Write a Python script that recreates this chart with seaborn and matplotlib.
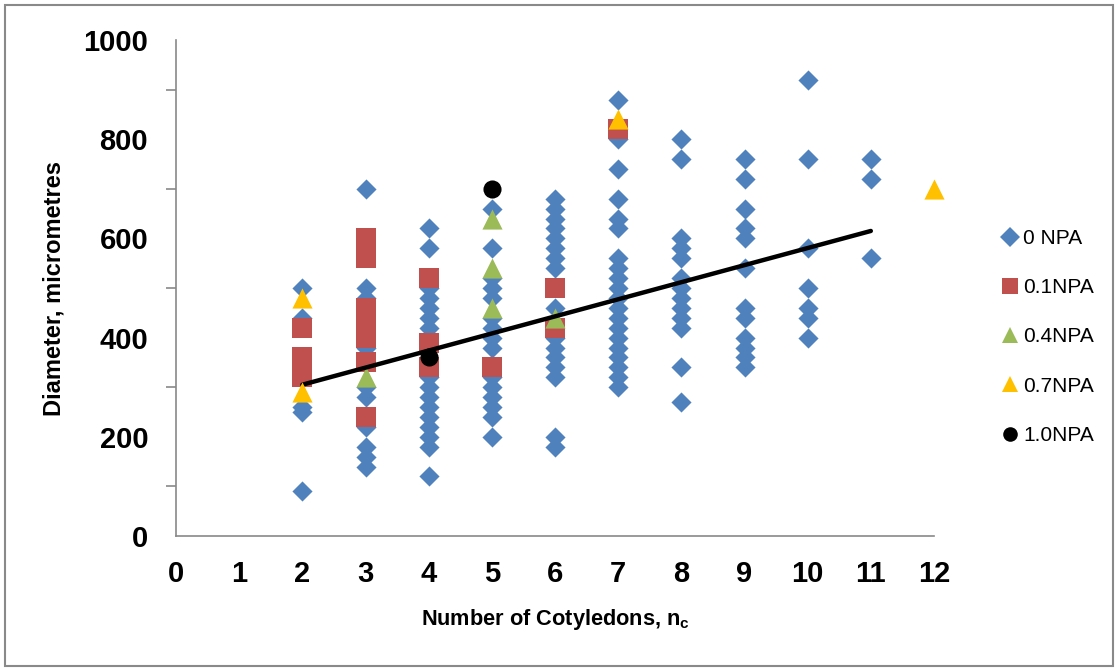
import matplotlib
matplotlib.use("Agg")
import matplotlib.pyplot as plt
from matplotlib.lines import Line2D
from matplotlib.patches import Rectangle
import seaborn as sns
import pandas as pd
from matplotlib.ticker import MultipleLocator

# ---------------- data ----------------
npa0_x = ([2]*5 + [3]*10 + [4]*16 + [5]*15 + [6]*16 + [7]*20 + [8]*13 + [9]*12 + [10]*7 + [11]*3)
npa0_y = ([500, 440, 260, 250, 90] +
          [700, 500, 480, 380, 300, 280, 220, 180, 160, 140] +
          [620, 580, 500, 480, 460, 440, 420, 320, 300, 280, 260, 240, 220, 200, 180, 120] +
          [660, 580, 520, 500, 480, 440, 420, 400, 380, 320, 300, 280, 260, 240, 200] +
          [680, 660, 640, 620, 600, 580, 560, 540, 460, 400, 380, 360, 340, 320, 200, 180] +
          [880, 800, 740, 680, 640, 620, 560, 540, 520, 500, 480, 460, 440, 420, 400, 380, 360, 340, 320, 300] +
          [800, 760, 600, 580, 560, 520, 500, 480, 460, 440, 420, 340, 270] +
          [760, 720, 660, 620, 600, 540, 460, 440, 400, 380, 360, 340] +
          [920, 760, 580, 500, 460, 440, 400] +
          [760, 720, 560])

npa01_x = [2, 2, 2, 3, 3, 3, 3, 3, 3, 3, 4, 4, 4, 5, 6, 6, 7]
npa01_y = [420, 360, 320, 600, 560, 460, 420, 400, 350, 240, 520, 390, 340, 340, 500, 420, 820]

npa04_x = [3, 5, 5, 5, 6]
npa04_y = [320, 640, 540, 460, 440]

npa07_x = [2, 2, 7, 12]
npa07_y = [480, 290, 840, 700]

npa10_x = [4, 5]
npa10_y = [360, 700]

trend_x = [2, 11]
trend_y = [305, 615]

series_names = ["0 NPA", "0.1NPA", "0.4NPA", "0.7NPA", "1.0NPA"]
x_ticks = list(range(0, 13))
y_ticks = [0, 200, 400, 600, 800, 1000]

# ---------------- style ----------------
sns.set_style("white")
plt.rcParams["font.family"] = ["Liberation Sans", "DejaVu Sans"]
plt.rcParams["text.color"] = "black"
plt.rcParams["axes.labelcolor"] = "black"
plt.rcParams["xtick.labelcolor"] = "black"
plt.rcParams["ytick.labelcolor"] = "black"
BOLD_FAMILY = ["Liberation Sans Narrow", "Liberation Sans", "DejaVu Sans"]

colors = ["#4F81BD", "#C0504D", "#9BBB59", "#FFC000", "#000000"]
markers = ["D", "s", "^", "^", "o"]
sizes = [105, 210, 210, 210, 170]

fig = plt.figure(figsize=(11.2, 6.7), dpi=100)
ax = fig.add_axes([176/1120, 1-536/670, (934-176)/1120, (536-40)/670])

data = [(npa0_x, npa0_y), (npa01_x, npa01_y), (npa04_x, npa04_y),
        (npa07_x, npa07_y), (npa10_x, npa10_y)]

for i, (xs, ys) in enumerate(data):
    df = pd.DataFrame({"x": xs, "y": ys})
    sns.scatterplot(data=df, x="x", y="y", ax=ax, color=colors[i],
                    marker=markers[i], s=sizes[i], linewidth=0,
                    zorder=3 + i if i < 3 else 7 + i, legend=False,
                    clip_on=False)

tdf = pd.DataFrame({"x": trend_x, "y": trend_y})
sns.lineplot(data=tdf, x="x", y="y", ax=ax, color="black", linewidth=3.2,
             zorder=8, legend=False)

ax.set_xlim(0, 12)
ax.set_ylim(0, 1000)
ax.set_xticks(x_ticks)
ax.set_yticks(y_ticks)
ax.yaxis.set_minor_locator(MultipleLocator(100))

for s in ["top", "right"]:
    ax.spines[s].set_visible(False)
for s in ["left", "bottom"]:
    ax.spines[s].set_color("#898989")
    ax.spines[s].set_linewidth(1.2)

ax.tick_params(axis="both", which="both", direction="out", color="#898989",
               width=1.2, length=7, labelcolor="black")
ax.tick_params(axis="y", which="major", pad=13, labelsize=21)
ax.tick_params(axis="x", which="major", pad=10, labelsize=21)
ax.tick_params(axis="y", which="minor", left=True)
for lab in ax.get_xticklabels() + ax.get_yticklabels():
    lab.set_fontweight("bold")
    lab.set_family(["Liberation Sans", "DejaVu Sans"])
    lab.set_color("black")

ax.set_xlabel("Number of Cotyledons, n$_\\mathregular{c}$", fontsize=15.7,
              fontweight="bold", family=BOLD_FAMILY, color="black")
ax.set_ylabel("Diameter, micrometres", fontsize=17, fontweight="bold",
              family=BOLD_FAMILY, color="black")
ax.xaxis.set_label_coords(0.5, -(607-536)/496)
ax.yaxis.set_label_coords(-(176-66)/758, 0.5)
ax.patch.set_alpha(0)

handles = [Line2D([], [], linestyle="none", marker=markers[i],
                  markerfacecolor=colors[i], markeredgewidth=0,
                  markersize=[10, 11, 12, 11, 10.5][i])
           for i in range(5)]
fig.legend(handles, series_names, loc="center left",
           bbox_to_anchor=(991/1120, 1-337/670), frameon=False,
           fontsize=15, labelspacing=1.45, handletextpad=0.15,
           handlelength=1.0, borderaxespad=0)

fig.patches.append(Rectangle((5/1120, 4/670), 1108/1120, 661/670,
                             transform=fig.transFigure, fill=False,
                             edgecolor="#898989", linewidth=1.5))

fig.savefig("out.png", dpi=100)
